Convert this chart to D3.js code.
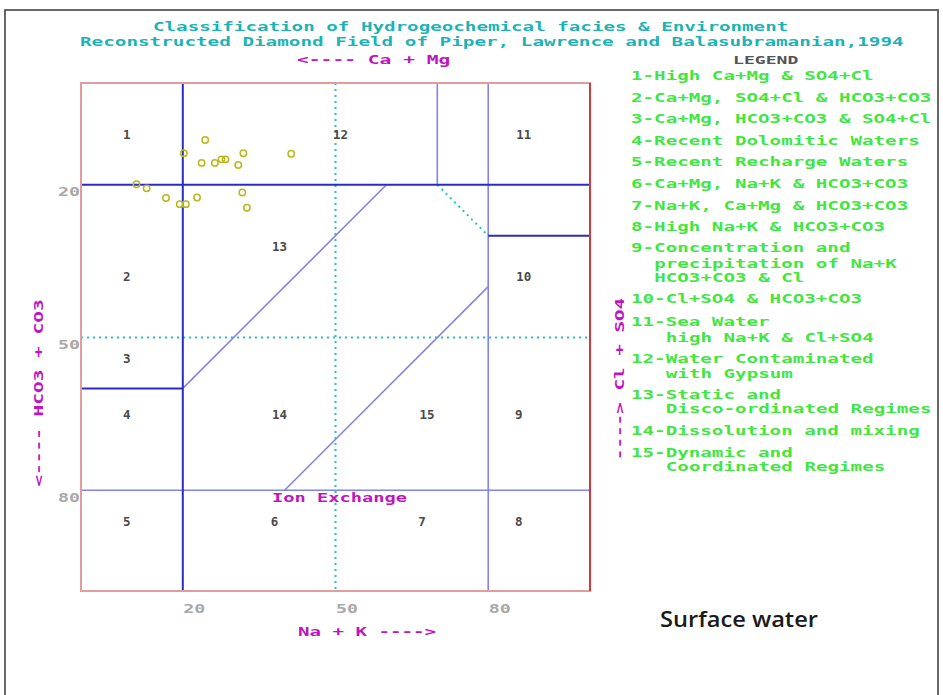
<!DOCTYPE html>
<html>
<head>
<meta charset="utf-8">
<script src="https://cdn.jsdelivr.net/npm/d3@7"></script>
<style>
  html, body { margin: 0; padding: 0; background: #fff; }
  svg { display: block; }
</style>
</head>
<body>
<div id="chart"></div>
<script>
// ---------- data ----------
const titleLines = [
  "Classification of Hydrogeochemical facies & Environment",
  "Reconstructed Diamond Field of Piper, Lawrence and Balasubramanian,1994"
];
const xTicks = [20, 50, 80];
const yTicks = [20, 50, 80];
const xLabel = "Na + K ---->";
const yLabel = "<---- HCO3 + CO3";
const topLabel = "<---- Ca + Mg";
const rightLabel = "----> Cl + SO4";
const ionLabel = "Ion Exchange";
const caption = "Surface water";

// sample points (Na+K %, HCO3+CO3 %)
const pointsX = [24.4, 20.2, 31.9, 41.3, 23.7, 26.3, 27.6, 28.4, 30.9, 10.9, 12.9, 16.7, 19.4, 20.6, 22.8, 31.7, 32.6];
const pointsY = [11.2, 13.8, 13.8, 13.9, 15.7, 15.7, 15.0, 15.0, 16.1, 19.9, 20.7, 22.6, 23.8, 23.8, 22.5, 21.5, 24.5];

// field boundaries [x1, y1, x2, y2]
const majorBounds = [[0, 20, 100, 20], [20, 0, 20, 100], [0, 60, 20, 60], [80, 30, 100, 30]];
const minorBounds = [[0, 80, 100, 80], [80, 0, 80, 100], [70, 0, 70, 20], [20, 60, 60, 20], [40, 80, 80, 40]];
const dottedBounds = [[50, 0, 50, 100], [0, 50, 100, 50], [70, 20, 80, 30]];

// field numbers and their centres
const zoneNames = ["1", "12", "11", "13", "2", "10", "3", "4", "14", "15", "9", "5", "6", "7", "8"];
const zoneX = [9, 51, 87, 39, 9, 87, 9, 9, 39, 68, 86, 9, 38, 67, 86];
const zoneY = [10, 10, 10, 32, 38, 38, 54, 65, 65, 65, 65, 86, 86, 86, 86];

// legend lines
const legendText = [
  "1-High Ca+Mg & SO4+Cl",
  "2-Ca+Mg, SO4+Cl & HCO3+CO3",
  "3-Ca+Mg, HCO3+CO3 & SO4+Cl",
  "4-Recent Dolomitic Waters",
  "5-Recent Recharge Waters",
  "6-Ca+Mg, Na+K & HCO3+CO3",
  "7-Na+K, Ca+Mg & HCO3+CO3",
  "8-High Na+K & HCO3+CO3",
  "9-Concentration and",
  "precipitation of Na+K",
  "HCO3+CO3 & Cl",
  "10-Cl+SO4 & HCO3+CO3",
  "11-Sea Water",
  "high Na+K & Cl+SO4",
  "12-Water Contaminated",
  "with Gypsum",
  "13-Static and",
  "Disco-ordinated Regimes",
  "14-Dissolution and mixing",
  "15-Dynamic and",
  "Coordinated Regimes"
];
const legendIndent = [0,0,0,0,0,0,0,0,0,2,2,0,0,3,0,3,0,3,0,0,3];
const legendRowY = [75, 97, 118, 140, 161, 183, 205, 226, 247, 263, 277, 298, 321, 337, 358, 373, 394, 408, 430, 452, 466];

// ---------- drawing ----------
const W = 943, H = 695;
const MONO = "'DejaVu Sans Mono', 'Liberation Mono', monospace";
const TEAL = "#1db3b6", MAG = "#c014c0", GREEN = "#42e642";

const svg = d3.select("#chart").append("svg").attr("width", W).attr("height", H);

// outer frame
svg.append("rect").attr("x", 5).attr("y", 10).attr("width", 933).attr("height", 700)
  .attr("fill", "none").attr("stroke", "#444").attr("stroke-width", 1.6);

const x = d3.scaleLinear().domain([0, 100]).range([81, 590]);
const y = d3.scaleLinear().domain([0, 100]).range([83, 592]);

function mono(g, str, x0, yb, cw, size, color, weight) {
  return g.append("text")
    .attr("x", x0).attr("y", yb)
    .attr("font-family", MONO).attr("font-size", size)
    .attr("font-weight", weight || "bold")
    .attr("fill", color)
    .attr("textLength", str.length * cw)
    .attr("lengthAdjust", "spacingAndGlyphs")
    .style("white-space", "pre")
    .text(str);
}

// titles
mono(svg, titleLines[0], 153, 31, 11.55, 13, TEAL);
mono(svg, titleLines[1], 80, 46, 11.6, 13, TEAL);
mono(svg, topLabel, 297, 64, 11.8, 13, MAG);

// dotted cyan
svg.append("g").selectAll("line").data(dottedBounds).join("line")
  .attr("x1", d => x(d[0])).attr("y1", d => y(d[1]))
  .attr("x2", d => x(d[2])).attr("y2", d => y(d[3]))
  .attr("stroke", "#22c4c4").attr("stroke-width", 2).attr("stroke-dasharray", "2,4");

// minor boundaries
svg.append("g").selectAll("line").data(minorBounds).join("line")
  .attr("x1", d => x(d[0])).attr("y1", d => y(d[1]))
  .attr("x2", d => x(d[2])).attr("y2", d => y(d[3]))
  .attr("stroke", "#8484e4").attr("stroke-width", 1.6);

// major boundaries
svg.append("g").selectAll("line").data(majorBounds).join("line")
  .attr("x1", d => x(d[0])).attr("y1", d => y(d[1]))
  .attr("x2", d => x(d[2])).attr("y2", d => y(d[3]))
  .attr("stroke", "#2a2ac4").attr("stroke-width", 2);

// plot frame
svg.append("rect")
  .attr("x", x(0)).attr("y", y(0))
  .attr("width", x(100) - x(0)).attr("height", y(100) - y(0) - 1)
  .attr("fill", "none").attr("stroke", "#e29c9c").attr("stroke-width", 2);
svg.append("line").attr("x1", x(100)).attr("x2", x(100)).attr("y1", y(0)).attr("y2", y(100) - 1)
  .attr("stroke", "#d23a3a").attr("stroke-width", 2);

// zone numbers
svg.append("g").selectAll("text").data(zoneNames).join("text")
  .attr("x", (d, i) => x(zoneX[i])).attr("y", (d, i) => y(zoneY[i]) + 5)
  .attr("text-anchor", "middle")
  .attr("font-family", MONO).attr("font-size", 12.5).attr("font-weight", "bold")
  .attr("fill", "#4a4a4a")
  .text(d => d);

// ion exchange
mono(svg, ionLabel, x(50) - ionLabel.length * 11.25 / 2 + 4, y(80) + 12, 11.25, 13, MAG);

// points
svg.append("g").selectAll("circle").data(pointsX).join("circle")
  .attr("cx", (d, i) => x(d)).attr("cy", (d, i) => y(pointsY[i]))
  .attr("r", 3.2)
  .attr("fill", "none").attr("stroke", "#b8b81c").attr("stroke-width", 1.5);

// axes (labels only)
const gx = svg.append("g").attr("transform", `translate(0,${y(100)})`)
  .call(d3.axisBottom(x).tickValues(xTicks).tickSize(0).tickPadding(12));
gx.select(".domain").remove();
gx.selectAll("text")
  .attr("text-anchor", "start")
  .attr("font-family", MONO).attr("font-size", 13).attr("font-weight", "bold")
  .attr("fill", "#a8a8a8")
  .attr("textLength", 22).attr("lengthAdjust", "spacingAndGlyphs");

const gy = svg.append("g").attr("transform", `translate(${x(0) - 1},0)`)
  .call(d3.axisLeft(y).tickValues(yTicks).tickSize(0).tickPadding(0));
gy.select(".domain").remove();
gy.selectAll("text")
  .attr("dy", "0.85em")
  .attr("font-family", MONO).attr("font-size", 13).attr("font-weight", "bold")
  .attr("fill", "#a8a8a8")
  .attr("textLength", 22).attr("lengthAdjust", "spacingAndGlyphs");

// axis titles
mono(svg, xLabel, 298, 636, 11.5, 13, MAG);
const yl = svg.append("g").attr("transform", "translate(43,393) rotate(-90)");
mono(yl, yLabel, -yLabel.length * 11.7 / 2, 0, 11.7, 13, MAG);
const rl = svg.append("g").attr("transform", "translate(624,379) rotate(-90)");
mono(rl, rightLabel, -rightLabel.length * 11.6 / 2, 0, 11.6, 13, MAG);

// legend
mono(svg, "LEGEND", 733, 63.5, 10.9, 11, "#555");
const lg = svg.append("g");
legendText.forEach((t, i) => {
  mono(lg, t, 631 + legendIndent[i] * 11.6, legendRowY[i] + 5, 11.55, 13, GREEN);
});

// caption
svg.append("text")
  .attr("x", 660).attr("y", 627)
  .attr("font-family", "'Open Sans', 'Noto Sans', sans-serif")
  .attr("font-size", 21).attr("font-weight", 600)
  .attr("fill", "#1a1a1a")
  .attr("textLength", 158).attr("lengthAdjust", "spacingAndGlyphs")
  .text(caption);
</script>
</body>
</html>
